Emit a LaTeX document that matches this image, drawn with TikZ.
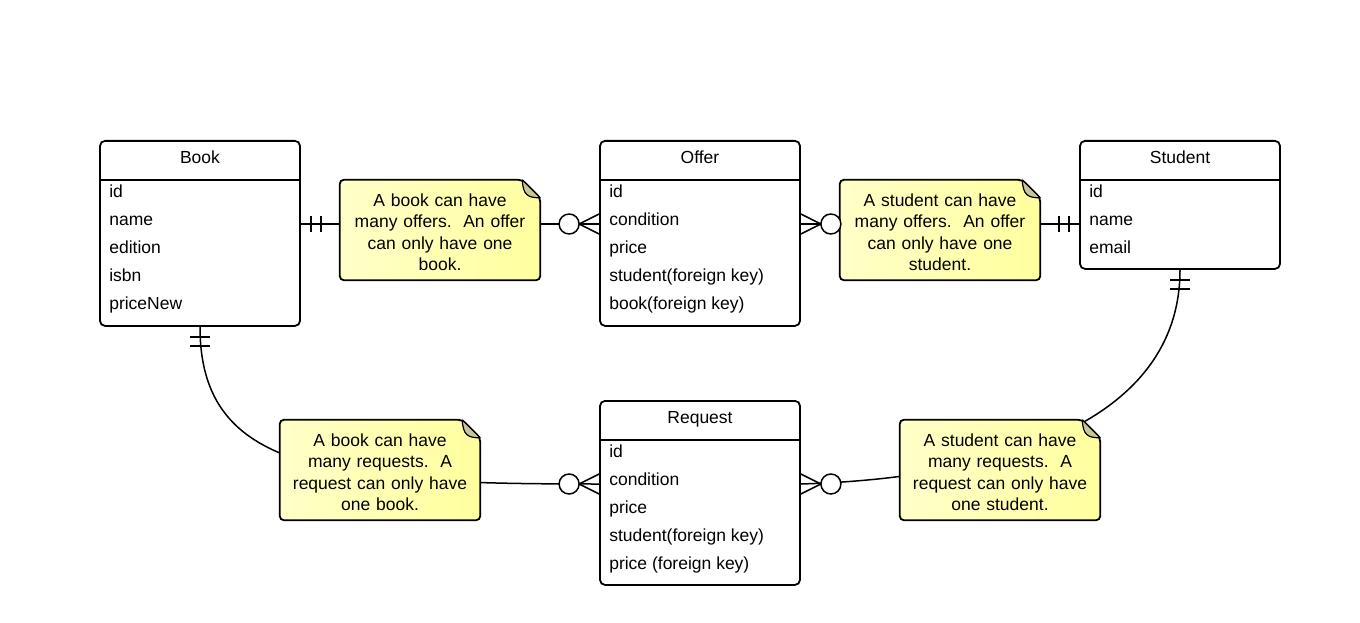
\documentclass[tikz,border=0pt]{standalone}
\usepackage{fontspec}
\setmainfont{Liberation Sans}
\usetikzlibrary{calc}
\pgfdeclarelayer{lines}
\pgfdeclarelayer{paper}
\pgfsetlayers{lines,paper,main}
\definecolor{noteleft}{RGB}{255,255,200}
\definecolor{noteright}{RGB}{255,255,158}
\definecolor{foldcol}{RGB}{198,198,154}
\begin{document}
\frenchspacing
\begin{tikzpicture}[x=1pt,y=-1pt,
	font=\fontsize{17.5}{21.5}\selectfont,
	entity/.style={draw, line width=1.8pt, rounded corners=5pt, minimum width=200pt, anchor=north, inner sep=0pt},
	title/.style={text height=12.7pt, text depth=0pt, inner sep=0pt},
	field/.style={anchor=west, text height=12.7pt, text depth=0pt, inner sep=0pt},
	note/.style={text width=190pt, align=center, inner sep=0pt, minimum width=200pt, minimum height=100pt},
	conn/.style={line width=1.5pt},
	paper/.style={draw, line width=1.8pt, rounded corners=4pt, left color=noteleft, right color=noteright},
	fold/.style={draw, fill=foldcol, line width=1.2pt, line join=round}]
	\useasboundingbox (0,0) rectangle (1360,623);
	% entities
	\node[entity, minimum height=185pt] (book) at (200,140) {};
	\node[title] (book-title) at ($(book.north)+(0,17)$) {Book};
	\draw[line width=1.8pt] ($(book.north west)+(0,40)$) -- ($(book.north east)+(0,40)$);
	\foreach \f [count=\i] in {id,name,edition,isbn,priceNew}
		\node[field] (book-\i) at ($(book.north west)+(10,23+28*\i)$) {\f};
	\node[entity, minimum height=185pt] (offer) at (700,140) {};
	\node[title] (offer-title) at ($(offer.north)+(0,17)$) {Offer};
	\draw[line width=1.8pt] ($(offer.north west)+(0,40)$) -- ($(offer.north east)+(0,40)$);
	\foreach \f [count=\i] in {id,condition,price,student(foreign key),book(foreign key)}
		\node[field] (offer-\i) at ($(offer.north west)+(10,23+28*\i)$) {\f};
	\node[entity, minimum height=128pt] (student) at (1180,140) {};
	\node[title] (student-title) at ($(student.north)+(0,17)$) {Student};
	\draw[line width=1.8pt] ($(student.north west)+(0,40)$) -- ($(student.north east)+(0,40)$);
	\foreach \f [count=\i] in {id,name,email}
		\node[field] (student-\i) at ($(student.north west)+(10,23+28*\i)$) {\f};
	\node[entity, minimum height=184pt] (request) at (700,400) {};
	\node[title] (request-title) at ($(request.north)+(0,17)$) {Request};
	\draw[line width=1.8pt] ($(request.north west)+(0,40)$) -- ($(request.north east)+(0,40)$);
	\foreach \f [count=\i] in {id,condition,price,student(foreign key),price (foreign key)}
		\node[field] (request-\i) at ($(request.north west)+(10,23+28*\i)$) {\f};
	% connector ends
	\coordinate (bo-e) at ($(book.north east)+(0,84)$);
	\coordinate (of-w) at ($(offer.north west)+(0,84)$);
	\coordinate (of-e) at ($(offer.north east)+(0,84)$);
	\coordinate (st-w) at ($(student.north west)+(0,84)$);
	\coordinate (rq-w) at ($(request.north west)+(0,84)$);
	\coordinate (rq-e) at ($(request.north east)+(0,84)$);
	\begin{pgfonlayer}{lines}
		\draw[conn] (bo-e) -- (of-w);
		\draw[conn] (of-e) -- (st-w);
		\draw[conn] (book.south) .. controls ($(book.south)+(0,145)$) and ($(rq-w)+(-270,0)$) .. (rq-w);
		\draw[conn] (student.south) .. controls ($(student.south)+(0,152)$) and ($(rq-e)+(200,-6)$) .. (rq-e);
	\end{pgfonlayer}
	% many (zero or more)
	\foreach \e/\s in {of-w/-1,of-e/1,rq-w/-1,rq-e/1} {
		\draw[conn] ($(\e)+(\s*20,0)$) -- ($(\e)+(0,-10)$) ($(\e)+(\s*20,0)$) -- ($(\e)+(0,10)$);
		\draw[conn, fill=white] ($(\e)+(\s*30,0)$) circle[radius=10];
	}
	% one and only one
	\foreach \d in {10,20} {
		\draw[conn] ($(bo-e)+(\d,-8)$) -- ($(bo-e)+(\d,8)$);
		\draw[conn] ($(st-w)+(-\d,-8)$) -- ($(st-w)+(-\d,8)$);
	}
	\foreach \d in {10,19} {
		\draw[conn] ($(book.south)+(-10,\d)$) -- ($(book.south)+(10,\d)$);
		\draw[conn] ($(student.south)+(-10,\d)$) -- ($(student.south)+(10,\d)$);
	}
	% notes
	\node[note] (n-bo) at (440,232) {A book can have\\many offers.\ \ An offer\\can only have one\\book.};
	\node[note] (n-so) at (940,232) {A student can have\\many offers.\ \ An offer\\can only have one\\student.};
	\node[note] (n-br) at (380,472) {A book can have\\many requests.\ \ A\\request can only have\\one book.};
	\node[note] (n-sr) at (1000,472) {A student can have\\many requests.\ \ A\\request can only have\\one student.};
	\begin{pgfonlayer}{paper}
		\foreach \n in {n-bo,n-so,n-br,n-sr} {
			\draw[paper] ([yshift=1pt]\n.west) -- ($(\n.north west)+(0,-2)$) -- ($(\n.north east)+(-18,-2)$) -- ($(\n.north east)+(0,16)$) -- ($(\n.south east)+(0,-2)$) -- ($(\n.south west)+(0,-2)$) -- cycle;
			\draw[fold] ($(\n.north east)+(-18,-2)$) -- ($(\n.north east)+(0,16)$) .. controls ($(\n.north east)+(-13,16)$) and ($(\n.north east)+(-17,13)$) .. ($(\n.north east)+(-18,-2)$);
		}
	\end{pgfonlayer}
\end{tikzpicture}
\end{document}
